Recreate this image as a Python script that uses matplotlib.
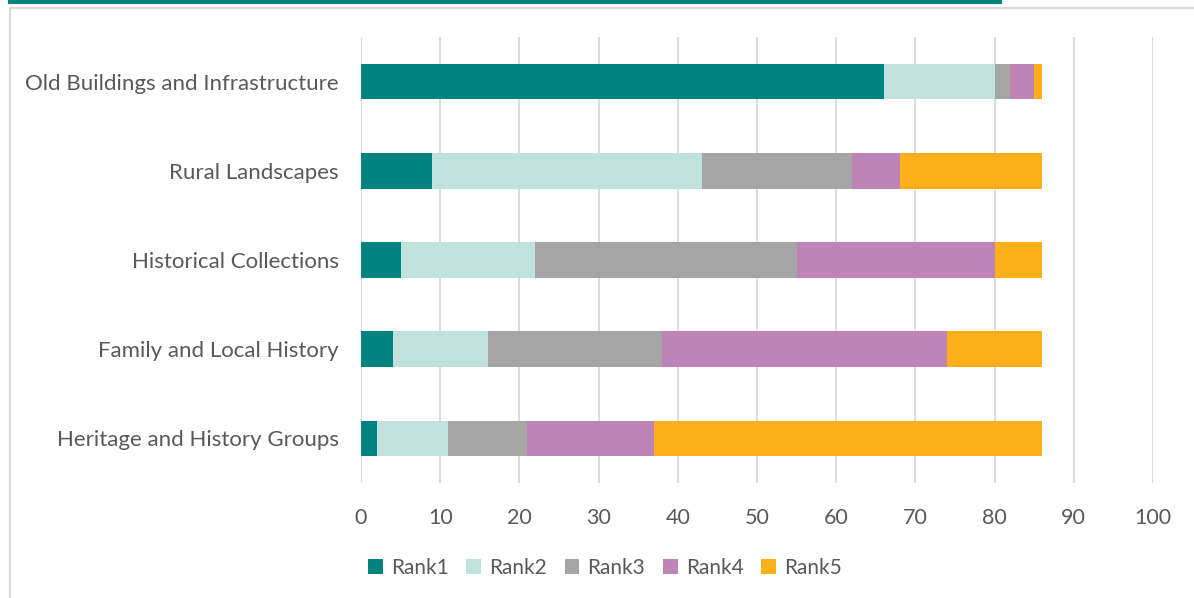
import matplotlib.pyplot as plt
from matplotlib.patches import Rectangle
from matplotlib.lines import Line2D

categories = ['Old Buildings and Infrastructure', 'Rural Landscapes',
              'Historical Collections', 'Family and Local History',
              'Heritage and History Groups']
rank1 = [66, 9, 5, 4, 2]
rank2 = [14, 34, 17, 12, 9]
rank3 = [2, 19, 33, 22, 10]
rank4 = [3, 6, 25, 36, 16]
rank5 = [1, 18, 6, 12, 49]
series = ['Rank1', 'Rank2', 'Rank3', 'Rank4', 'Rank5']
colors = ['#00827F', '#BFE3DC', '#A5A5A5', '#BE84B8', '#FDB019']

plt.rcParams['font.family'] = ['Lato', 'DejaVu Sans']
W, H = 1194, 598
fig = plt.figure(figsize=(W / 100, H / 100), dpi=100)

# chart frame and the teal rule at the top
fig.patches.append(Rectangle((10 / W, -0.1), 1.2, 1 - 8 / H + 0.1, transform=fig.transFigure,
                             fill=False, edgecolor='#D9D9D9', linewidth=1.5))
fig.lines.append(Line2D([10 / W, 1000 / W], [1 - 1.5 / H, 1 - 1.5 / H], transform=fig.transFigure,
                        color='#00827F', linewidth=3))

ax = fig.add_axes([361 / W, 1 - 483 / H, (1153 - 361) / W, (483 - 37) / H])

y = list(range(len(categories)))
left = [0] * len(categories)
for name, vals, c in zip(series, [rank1, rank2, rank3, rank4, rank5], colors):
    ax.barh(y, vals, left=left, height=0.4, color=c, label=name, zorder=3)
    left = [l + v for l, v in zip(left, vals)]

ax.set_ylim(len(categories) - 0.5, -0.5)
ax.set_xlim(0, 100)
ax.set_xticks(range(0, 101, 10))
ax.set_yticks(y)
ax.set_yticklabels(categories)
ax.grid(axis='x', color='#D9D9D9', linewidth=1.3, zorder=0)
for s in ax.spines.values():
    s.set_visible(False)
ax.tick_params(axis='y', length=0, labelsize=16, colors='#595959', pad=16)
ax.tick_params(axis='x', length=0, labelsize=15.5, colors='#595959', pad=18)

ax.legend(loc='center', bbox_to_anchor=(605 / W, 1 - 568 / H), bbox_transform=fig.transFigure,
          ncol=5, frameon=False, fontsize=15, labelcolor='#595959',
          handlelength=0.7, handleheight=0.7, columnspacing=0.85, handletextpad=0.4)

fig.savefig('out.png', dpi=100)
